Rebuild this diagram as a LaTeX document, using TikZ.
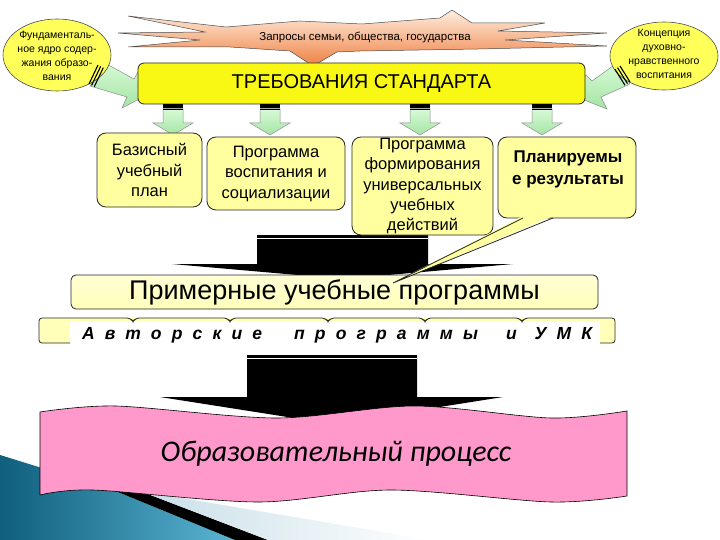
\documentclass[tikz,border=0pt]{standalone}
\usepackage{fontspec}
\setmainfont{Liberation Sans}
\newfontfamily\spacedfont[LetterSpace=58]{Liberation Sans}
\newfontfamily\processfont{Carlito}
\usetikzlibrary{shapes.geometric}
\usetikzlibrary{positioning}

\definecolor{bannerYellow}{RGB}{248,248,20}
\definecolor{boxYellow}{RGB}{255,255,160}
\definecolor{ovalYellow}{RGB}{255,255,90}
\definecolor{paleYellow}{RGB}{255,255,185}
\definecolor{arrowGreen}{RGB}{215,250,215}
\definecolor{arrowGreenDark}{RGB}{165,228,165}
\definecolor{requestPeach}{RGB}{255,238,224}
\definecolor{requestOrange}{RGB}{238,128,65}
\definecolor{processPink}{RGB}{255,153,204}
\definecolor{decoTeal}{RGB}{15,95,125}
\definecolor{decoTealLight}{RGB}{90,180,210}
\definecolor{decoPale}{RGB}{200,222,232}

\tikzset{
  stdbox/.style={draw=black!85, fill=boxYellow, rounded corners=9pt, line width=0.8pt},
  oval/.style={ellipse, draw=black!70, fill=ovalYellow, line width=0.6pt, inner sep=0pt},
  ovaltext/.style={align=center, inner sep=0pt, font=\fontsize{10.5}{14}\selectfont},
  boxtext/.style={align=center, inner sep=0pt, font=\fontsize{16.5}{20.5}\selectfont},
  greenarrow/.style={draw=black!45, top color=arrowGreen, bottom color=arrowGreenDark, line width=0.5pt},
  stripe/.style={draw=black, line width=1.1pt},
}

\begin{document}
\begin{tikzpicture}[x=1pt,y=-1pt]
  \useasboundingbox (0,0) rectangle (720,540);

  % slide decoration, bottom left
  \shade[left color=decoTeal, right color=decoTealLight] (0,455) -- (113,490) -- (235,540) -- (0,540) -- cycle;
  \fill[black] (113,490) -- (140,491) -- (268,540) -- (235,540) -- cycle;
  \shade[left color=decoPale, right color=white] (140,491) -- (430,540) -- (268,540) -- cycle;

  % requests
  \draw[draw=black!70, line width=0.5pt, top color=requestPeach, bottom color=requestOrange]
    (128,16) -- (226,27) -- (300,21) -- (362,24) -- (440,18) -- (452,10) -- (472,23)
    -- (545,23) -- (498,31) -- (607,33) -- (505,40) -- (607,46) -- (478,49) -- (360,51)
    -- (337,52) -- (313,66) -- (290,51) -- (230,47) -- (128,47) -- (200,40) -- (118,33)
    -- (205,32) -- cycle;
  \node[inner sep=0pt, font=\fontsize{11.5}{12}\selectfont] (requests) at (365,37) {Запросы семьи, общества, государства};

  % side arrows
  \draw[greenarrow] (103,62) -- (134,79) -- (138,72) -- (151,93) -- (122,108) -- (127,97) -- (90,86) -- cycle;
  \draw[greenarrow] (617,63) -- (592,81) -- (586,75) -- (574,96) -- (607,109) -- (601,97) -- (630,84) -- cycle;

  % ovals
  \node[oval, minimum width=108, minimum height=72] (core) at (57,55) {};
  \node[ovaltext] (coretext) at (57,56) {Фундаменталь-\\ное ядро содер-\\жания образо-\\вания};
  \node[oval, minimum width=108, minimum height=68] (concept) at (664,56) {};
  \node[ovaltext] (concepttext) at (664,54) {Концепция\\духовно-\\нравственного\\воспитания};

  \foreach \d in {0,3,6}
    \draw[stripe] (98+\d*0.88,65+\d*0.45) -- (89+\d*0.88,84+\d*0.45);
  \foreach \d in {0,3,6}
    \draw[stripe] (620-\d*0.84,66+\d*0.54) -- (630-\d*0.84,82+\d*0.54);

  % standard
  \node[draw=black!85, fill=bannerYellow, rounded corners=6pt, line width=0.8pt,
        minimum width=447, minimum height=41, inner sep=0pt,
        font=\fontsize{20}{20}\selectfont] (standard) at (361.5,83.5) {ТРЕБОВАНИЯ СТАНДАРТА};

  \foreach \x in {173,270,420,542} {
    \draw[greenarrow] (\x-10,109) -- (\x+10,109) -- (\x+10,123) -- (\x+20,123) -- (\x,135)
      -- (\x-20,123) -- (\x-10,123) -- cycle;
    \fill[black] (\x-10,104) rectangle (\x+10,110);
    \draw[black!35, line width=0.8pt] (\x-10,108) -- (\x+10,108);
  }

  % black arrow to sample programmes
  \fill[black] (257,235) -- (428,235) -- (428,264) -- (513,264) -- (343,279) -- (172,264)
    -- (257,264) -- cycle;
  \draw[white, line width=0.7pt] (257,238) -- (428,238);

  % documents
  \node[stdbox, boxtext, minimum width=105, minimum height=74] (plan) at (149.5,170)
    {Базисный\\учебный\\план};
  \node[stdbox, boxtext, minimum width=138, minimum height=73] (upbringing) at (276,173.5)
    {Программа\\воспитания и\\социализации};
  \node[stdbox, boxtext, minimum width=141, minimum height=98, font=\fontsize{16.5}{20.3}\selectfont]
    (actions) at (422.5,186) {Программа\\формирования\\универсальных\\учебных\\действий};
  \node[stdbox, minimum width=138, minimum height=81] (results) at (567,177.5) {};
  \node[boxtext, font=\bfseries\fontsize{17}{22}\selectfont] (resultstext) at (568,169)
    {Планируемы\\е результаты};

  % sample programmes
  \node[draw=black!85, top color=paleYellow!60!white, bottom color=paleYellow, rounded corners=5pt,
        line width=0.8pt, minimum width=527, minimum height=34, inner sep=0pt,
        font=\fontsize{27}{27}\selectfont] (sample) at (334.5,292) {Примерные учебные программы};

  % callout tail
  \fill[boxYellow] (523,216) -- (393,283) -- (553,216) -- cycle;
  \draw[black!85, line width=0.8pt] (523,218) -- (393,283) -- (553,218);

  % author programmes
  \fill[paleYellow, rounded corners=3pt] (39,318) rectangle (615,343);
  \fill[white] (70,321) rectangle (600,346);
  \draw[black!85, line width=0.8pt, rounded corners=3pt] (70,343) -- (39,343) -- (39,318) -- (130,318)
    -- (133,322) -- (136,318) -- (227,318) -- (230,322) -- (233,318) -- (325,318) -- (328,322)
    -- (331,318) -- (422,318) -- (425,322) -- (428,318) -- (519,318) -- (522,322) -- (525,318)
    -- (615,318) -- (615,343) -- (600,343);
  \node[anchor=west, inner sep=0pt, font=\spacedfont\fontsize{17.5}{17.5}\selectfont\bfseries\itshape]
    (authors) at (82,335) {Авторские\hspace{17pt} программы\hspace{13pt} и\hspace{3pt} УМК};

  % black arrow to process
  \fill[black] (247,355) -- (417,355) -- (417,397) -- (503,397) -- (332,424) -- (160,397)
    -- (247,397) -- cycle;
  \draw[white, line width=0.7pt] (247,358) -- (417,358);

  % process
  \draw[fill=processPink, draw=black, line width=0.6pt]
    plot[smooth] coordinates {(40,412) (116,406) (276,418) (414,406) (551,418) (627,411)}
    -- (627,496)
    -- plot[smooth] coordinates {(627,496) (551,502) (391,490) (258,502) (93,490) (40,495)}
    -- cycle;
  \node[inner sep=0pt, font=\processfont\itshape\fontsize{30}{30}\selectfont] (process) at (336,454)
    {Образовательный процесс};
\end{tikzpicture}
\end{document}
